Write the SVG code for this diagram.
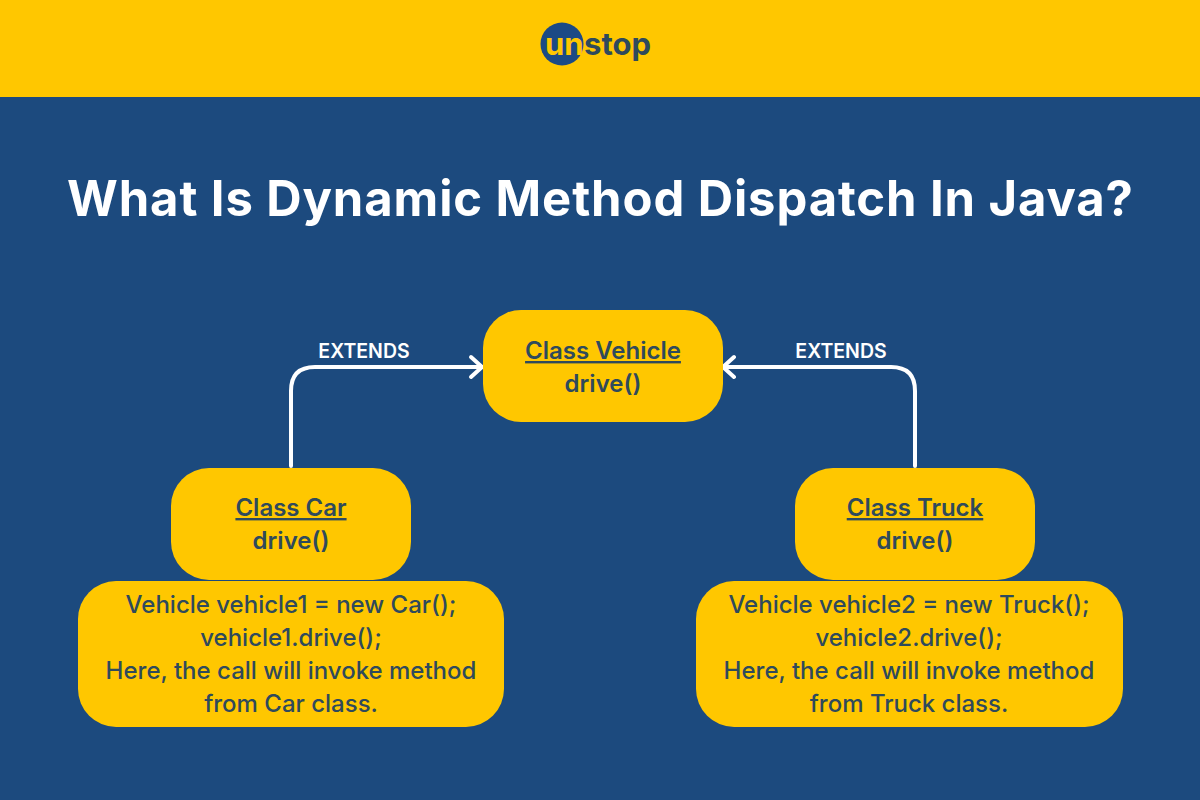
<svg xmlns="http://www.w3.org/2000/svg" width="1200" height="800" viewBox="0 0 1200 800">
<style>
.box{fill:#ffc700}
.t{font-family:"Inter","Liberation Sans",sans-serif;font-size:24px;fill:#2f4a5c;text-anchor:middle;font-weight:500}
.h{font-weight:600;text-decoration:underline}
.b{font-weight:600}
.e{font-family:"Inter","Liberation Sans",sans-serif;font-size:19.5px;fill:#fff;text-anchor:middle;font-weight:600}
.c{fill:none;stroke:#fff;stroke-width:4;stroke-linecap:round;stroke-linejoin:round}
.l{font-family:"Inter","Liberation Sans",sans-serif;font-size:31px;font-weight:700}
</style>
<rect width="1200" height="800" fill="#1c4a7e"/>
<rect width="1200" height="97" fill="#ffc700"/>
<g id="logo"><circle cx="562" cy="44" r="21.5" fill="#1c4a85"/>
<text class="l" x="545" y="54.500" fill="#ffc700">un</text>
<text class="l" x="584" y="54.500" fill="#2f4a5c" textLength="67">stop</text></g>
<text x="600" y="216" font-family="Inter,'Liberation Sans',sans-serif" font-size="49" font-weight="700" fill="#fff" text-anchor="middle" textLength="1066">What Is Dynamic Method Dispatch In Java?</text>
<g id="connectors">
<path class="c" d="M291 466V391Q291 367 315 367H481M471 357L482 367L471 377"/>
<path class="c" d="M915 466V391Q915 367 891 367H724M734 357L723 367L734 377"/>
<text class="e" x="364" y="358">EXTENDS</text>
<text class="e" x="841" y="358">EXTENDS</text>
</g>
<g id="vehicle"><rect class="box" x="483" y="310" width="240" height="112" rx="38"/><text class="t h" x="603" y="359">Class Vehicle</text><text class="t b" x="603" y="392">drive()</text></g>
<g id="car"><rect class="box" x="171" y="468" width="240" height="112" rx="38"/><text class="t h" x="291" y="516">Class Car</text><text class="t b" x="291" y="549">drive()</text></g>
<g id="truck"><rect class="box" x="795" y="468" width="240" height="112" rx="38"/><text class="t h" x="915" y="516">Class Truck</text><text class="t b" x="915" y="549">drive()</text></g>
<g id="carnote"><rect class="box" x="78" y="581" width="426" height="146" rx="38"/><text class="t" x="291" y="613">Vehicle vehicle1 = new Car();</text><text class="t" x="291" y="646">vehicle1.drive();</text><text class="t" x="291" y="679">Here, the call will invoke method</text><text class="t" x="291" y="712">from Car class.</text></g>
<g id="trucknote"><rect class="box" x="696" y="581" width="427" height="146" rx="38"/><text class="t" x="909" y="613">Vehicle vehicle2 = new Truck();</text><text class="t" x="909" y="646">vehicle2.drive();</text><text class="t" x="909" y="679">Here, the call will invoke method</text><text class="t" x="909" y="712">from Truck class.</text></g>
</svg>
